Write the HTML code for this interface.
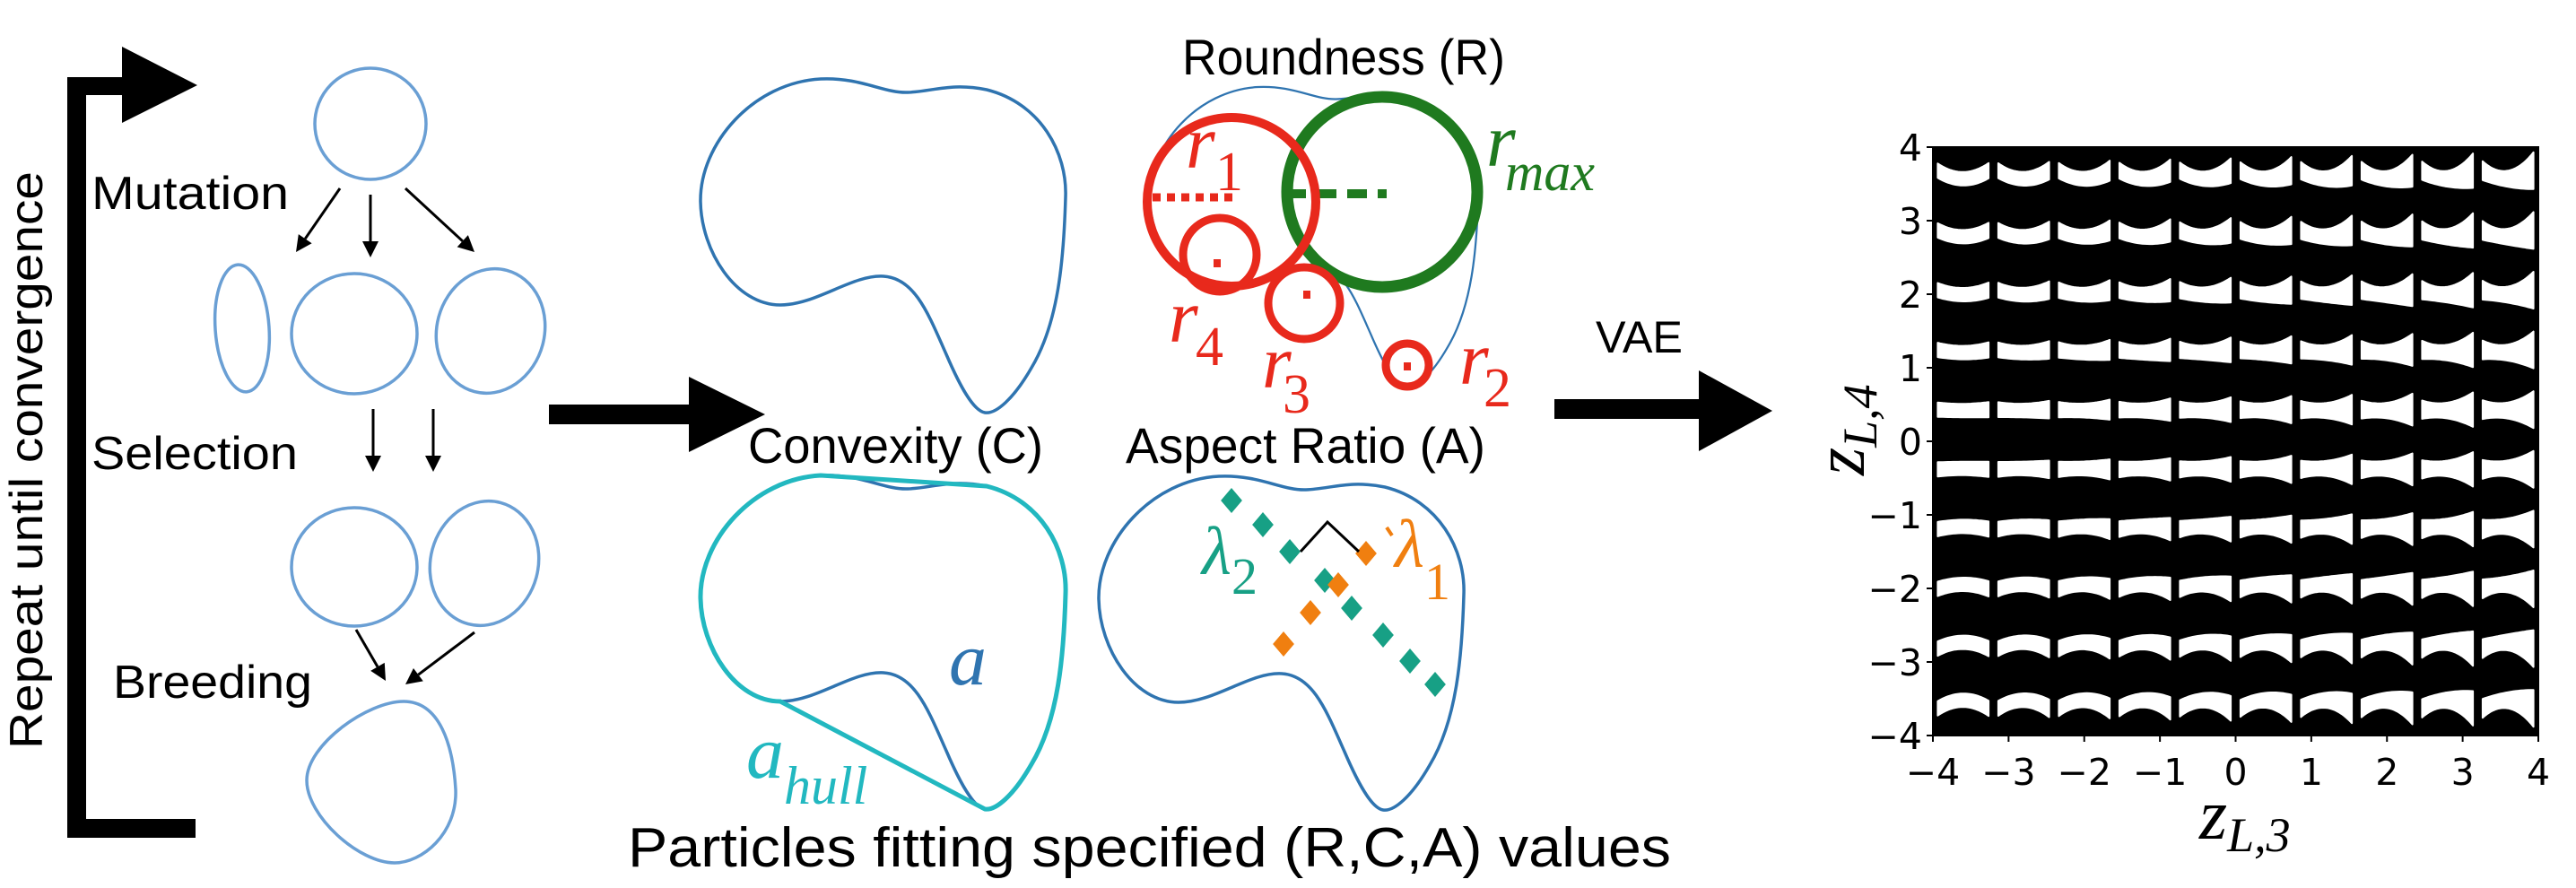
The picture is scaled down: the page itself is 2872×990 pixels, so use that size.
<!DOCTYPE html>
<html><head><meta charset="utf-8">
<style>
html,body{margin:0;padding:0;background:#fff;}
svg{display:block;}
.sans{font-family:"Liberation Sans",Arial,sans-serif;}
.serif{font-family:"Liberation Serif","DejaVu Serif",serif;font-style:italic;}
.dv{font-family:"DejaVu Sans","Liberation Sans",sans-serif;}
</style></head>
<body>
<svg id="fig" width="2872" height="990" viewBox="0 0 2872 990" xmlns="http://www.w3.org/2000/svg">
<defs>
<path id="blob" d="M 915 88 C 960 86, 985 104, 1012 103 C 1040 102, 1060 92, 1100 100 C 1160 115, 1190 170, 1188 220 C 1186 290, 1180 360, 1150 410 C 1130 445, 1110 462, 1098 460 C 1085 458, 1070 430, 1055 395 C 1035 350, 1020 310, 985 308 C 950 306, 910 340, 870 340 C 820 340, 782 280, 781 225 C 780 160, 840 92, 915 88 Z"/>
</defs>

<g fill="#000">
  <rect x="75" y="86" width="21" height="848"/>
  <rect x="75" y="86" width="64" height="20"/>
  <polygon points="136,52 220,95 136,137"/>
  <rect x="75" y="913" width="143" height="21"/>
</g>
<text class="sans" x="0" y="0" font-size="52" transform="translate(47,835) rotate(-90)" textLength="644" lengthAdjust="spacingAndGlyphs">Repeat until convergence</text>
<text class="sans" x="102" y="233" font-size="52" textLength="220" lengthAdjust="spacingAndGlyphs">Mutation</text>
<text class="sans" x="102" y="523" font-size="52" textLength="230" lengthAdjust="spacingAndGlyphs">Selection</text>
<text class="sans" x="126" y="778" font-size="52" textLength="222" lengthAdjust="spacingAndGlyphs">Breeding</text>

<g fill="none" stroke="#6a9fd4" stroke-width="3.5">
  <circle cx="413" cy="138" r="62"/>
  <ellipse cx="270" cy="366" rx="30" ry="71" transform="rotate(-4 270 366)"/>
  <ellipse cx="395" cy="372" rx="70" ry="67"/>
  <ellipse cx="547" cy="369" rx="60" ry="70" transform="rotate(15 547 369)"/>
  <ellipse cx="395" cy="632" rx="70" ry="66"/>
  <ellipse cx="540" cy="628" rx="60" ry="70" transform="rotate(15 540 628)"/>
  <path d="M 450 782 C 490 782, 505 830, 508 880 C 510 930, 470 962, 440 962 C 400 962, 342 910, 342 870 C 342 830, 410 782, 450 782 Z"/>
</g>
<g stroke="#000" stroke-width="3" fill="#000">
  <g id="arrows"></g>
</g>

<g fill="#000">
  <rect x="612" y="451" width="158" height="22"/>
  <polygon points="768,420 853,462 768,504"/>
</g>

<use href="#blob" fill="none" stroke="#2f74b0" stroke-width="3.5"/>

<text class="sans" x="1318" y="83" font-size="56" textLength="360" lengthAdjust="spacingAndGlyphs">Roundness (R)</text>
<g transform="translate(1282,97) scale(0.9) translate(-781,-88)">
  <use href="#blob" fill="none" stroke="#2f74b0" stroke-width="2.5" vector-effect="non-scaling-stroke"/>
</g>
<g fill="none">
  <circle cx="1541" cy="214" r="106" stroke="#1f7a1f" stroke-width="13"/>
  <line x1="1434" y1="216" x2="1546" y2="216" stroke="#1f7a1f" stroke-width="10" stroke-dasharray="22 12"/>
  <circle cx="1373" cy="225" r="94" stroke="#e8291c" stroke-width="10"/>
  <line x1="1285" y1="220" x2="1376" y2="220" stroke="#e8291c" stroke-width="9" stroke-dasharray="9 7"/>
  <circle cx="1360" cy="284" r="41" stroke="#e8291c" stroke-width="9"/>
  <circle cx="1454" cy="338" r="40" stroke="#e8291c" stroke-width="9"/>
  <circle cx="1569" cy="407" r="24" stroke="#e8291c" stroke-width="9"/>
  <rect x="1353" y="289" width="8" height="9" fill="#e8291c"/>
  <rect x="1453" y="324" width="8" height="9" fill="#e8291c"/>
  <rect x="1565" y="404" width="8" height="9" fill="#e8291c"/>
</g>
<g class="serif" fill="#e8291c">
  <text x="1322" y="187" font-size="84">r</text><text x="1355" y="212" font-size="62" font-style="normal">1</text>
  <text x="1303" y="381" font-size="84">r</text><text x="1333" y="407" font-size="62" font-style="normal">4</text>
  <text x="1407" y="432" font-size="84">r</text><text x="1430" y="460" font-size="62" font-style="normal">3</text>
  <text x="1627" y="428" font-size="84">r</text><text x="1654" y="453" font-size="62" font-style="normal">2</text>
</g>
<g class="serif" fill="#1f7a1f">
  <text x="1657" y="185" font-size="84">r</text><text x="1678" y="212" font-size="60">max</text>
</g>

<text class="sans" x="1779" y="393" font-size="50" textLength="97" lengthAdjust="spacingAndGlyphs">VAE</text>
<g fill="#000">
  <rect x="1733" y="445" width="164" height="22"/>
  <polygon points="1894,413 1976,458 1894,503"/>
</g>

<text class="sans" x="834" y="516" font-size="56" textLength="329" lengthAdjust="spacingAndGlyphs">Convexity (C)</text>
<text class="sans" x="1255" y="516" font-size="56" textLength="401" lengthAdjust="spacingAndGlyphs">Aspect Ratio (A)</text>

<g transform="translate(0,442)">
  <use href="#blob" fill="none" stroke="#2f74b0" stroke-width="3.5"/>
  <path d="M 915 88 L 1100 100 C 1160 115, 1190 170, 1188 220 C 1186 290, 1180 360, 1150 410 C 1130 445, 1110 462, 1098 460 L 870 340 C 820 340, 782 280, 781 225 C 780 160, 840 92, 915 88 Z" fill="none" stroke="#22b8c0" stroke-width="5"/>
</g>
<text class="serif" fill="#2f74b0" x="1058" y="763" font-size="84">a</text>
<g class="serif" fill="#22b8c0">
  <text x="832" y="867" font-size="84">a</text><text x="874" y="896" font-size="60">hull</text>
</g>

<g transform="translate(444,443)">
  <use href="#blob" fill="none" stroke="#2f74b0" stroke-width="3.5"/>
</g>
<g id="diamonds"></g>
<polyline points="1450,615 1480,582 1515,615" fill="none" stroke="#000" stroke-width="3"/>
<line x1="1546" y1="588" x2="1552" y2="597" stroke="#f07f10" stroke-width="4"/>
<g class="serif">
  <text x="1340" y="640" font-size="76" fill="#17a085">λ</text><text x="1373" y="662" font-size="58" fill="#17a085" font-style="normal">2</text>
  <text x="1555" y="632" font-size="76" fill="#f07f10">λ</text><text x="1588" y="668" font-size="58" fill="#f07f10" font-style="normal">1</text>
</g>

<text class="sans" x="700" y="966" font-size="62" textLength="1163" lengthAdjust="spacingAndGlyphs">Particles fitting specified (R,C,A) values</text>

<g id="latent"></g>

<script>
const xTicks = [-4, -3, -2, -1, 0, 1, 2, 3, 4];
const yTicks = [-4, -3, -2, -1, 0, 1, 2, 3, 4];
const zL3 = [-3.6, -2.8, -2.0, -1.2, -0.4, 0.4, 1.2, 2.0, 2.8, 3.6];
const zL4 = [3.6, 2.8, 2.0, 1.2, 0.4, -0.4, -1.2, -2.0, -2.8, -3.6];
const xDomain = [-4, 4];
const yDomain = [-4, 4];

const NS = 'http://www.w3.org/2000/svg';
const PL = 2155, PR = 2830, PT = 164, PB = 820;
function sx(v){ return PL + (v - xDomain[0]) / (xDomain[1] - xDomain[0]) * (PR - PL); }
function sy(v){ return PB - (v - yDomain[0]) / (yDomain[1] - yDomain[0]) * (PB - PT); }
function mk(tag, attrs, parent){ const e = document.createElementNS(NS, tag); for (const k in attrs) e.setAttribute(k, attrs[k]); parent.appendChild(e); return e; }

const arrG = document.getElementById('arrows');
const arrows = [[379,210,330,281],[413,217,413,287],[452,210,529,281],[416,456,416,526],[483,456,483,526],[397,702,430,759],[529,705,452,763]];
arrows.forEach(a => {
  const dx = a[2]-a[0], dy = a[3]-a[1], L = Math.hypot(dx,dy), ux = dx/L, uy = dy/L;
  const bx = a[2]-ux*18, by = a[3]-uy*18;
  const ln = mk('line', {x1:a[0], y1:a[1], x2:bx, y2:by}, arrG);
  
  
  const hd = mk('polygon', {points: `${a[2]},${a[3]} ${bx-uy*9},${by+ux*9} ${bx+uy*9},${by-ux*9}`, stroke:'none'}, arrG);
  
  
});

const dG = document.getElementById('diamonds');
const teal = [[1373,558],[1408,585],[1438,615],[1477,647],[1507,678],[1542,708],[1572,737],[1600,763]];
const orange = [[1523,617],[1492,652],[1461,683],[1431,718]];
function diamond(p, col){
  const s = 14;
  const d = mk('polygon', {points: `${p[0]},${p[1]-s} ${p[0]+s*0.85},${p[1]} ${p[0]},${p[1]+s} ${p[0]-s*0.85},${p[1]}`, fill: col}, dG);
  
  
}
teal.forEach(p => diamond(p, '#17a085'));
orange.forEach(p => diamond(p, '#f07f10'));

const G = document.getElementById('latent');
const bg = mk('rect', {x:PL, y:PT, width:PR-PL, height:PB-PT, fill:'#000'}, G);


const cw = (PR-PL)/10;
zL4.forEach((zy, r) => {
  zL3.forEach((zx, c) => {
    const cx = sx(zx), cy = sy(zy) - 2;
    const u = (zx + 3.6) / 7.2, v = (3.6 - zy) / 7.2;
    const A = 9 * (1 - 2 * v);
    const tL = 16 + 5 * u, tM = 15 + 3 * u, tR = 17 + 24 * u;
    const hw = cw * 0.42;
    const top = [], bot = [];
    for (let i = 0; i <= 20; i++) {
      const s = -1 + i / 10;
      const t = tM + (tR - tL) / 2 * s + ((tR + tL) / 2 - tM) * s * s;
      const yc = cy - A * s * s + A / 2;
      const x = cx + s * hw;
      top.push(`${x.toFixed(1)},${(yc - t / 2).toFixed(1)}`);
      bot.unshift(`${x.toFixed(1)},${(yc + t / 2).toFixed(1)}`);
    }
    const sh = mk('polygon', {points: top.concat(bot).join(' '), fill:'#fff', 'stroke':'#fff', 'stroke-width':2, 'stroke-linejoin':'round'}, G);
    
    
  });
});
const fr = mk('rect', {x:PL, y:PT, width:PR-PL, height:PB-PT, fill:'none', stroke:'#000', 'stroke-width':2}, G);


xTicks.forEach(t => {
  const x = sx(t);
  mk('line', {x1:x, y1:PB, x2:x, y2:PB+7, stroke:'#000', 'stroke-width':2}, G);
  const tx = mk('text', {x:x, y:875, 'font-size':41, 'text-anchor':'middle', class:'dv'}, G);
  tx.textContent = t < 0 ? '\u2212' + Math.abs(t) : String(t);
  
  
});
yTicks.forEach(t => {
  const y = sy(t);
  mk('line', {x1:PL-7, y1:y, x2:PL, y2:y, stroke:'#000', 'stroke-width':2}, G);
  const tx = mk('text', {x:PL-12, y:y+15, 'font-size':41, 'text-anchor':'end', class:'dv'}, G);
  tx.textContent = t < 0 ? '\u2212' + Math.abs(t) : String(t);
  
  
});
function axisTitle(parent, sub){
  const z = mk('tspan', {}, parent); z.textContent = 'z';
  const s = mk('tspan', {'font-size':54, dy:14}, parent); s.textContent = sub;
}
const xl = mk('text', {x:2452, y:935, class:'serif', 'font-size':80}, G);
axisTitle(xl, 'L,3');


const yl = mk('text', {x:0, y:0, class:'serif', 'font-size':80, transform:'translate(2078,530) rotate(-90)'}, G);
axisTitle(yl, 'L,4');


</script>
</svg>
</body></html>
